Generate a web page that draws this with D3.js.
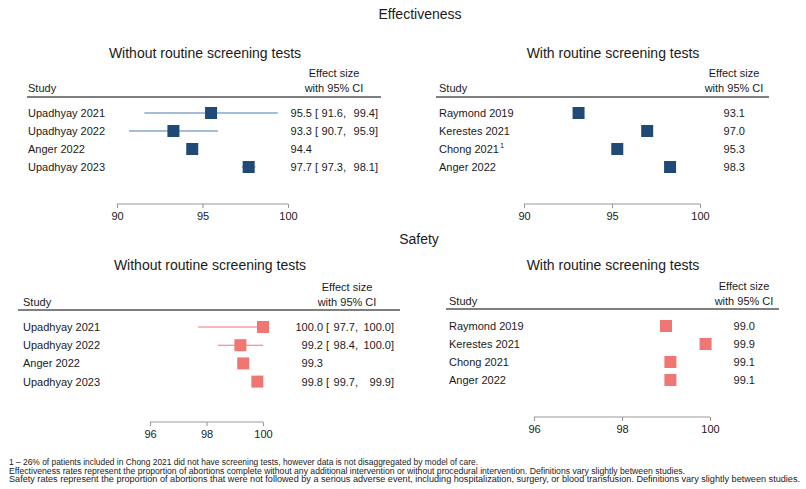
<!DOCTYPE html>
<html>
<head>
<meta charset="utf-8">
<script src="https://cdn.jsdelivr.net/npm/d3@7"></script>
<style>
  html, body { margin: 0; padding: 0; background: #fff; }
  svg text { font-family: "Liberation Sans", Arial, Helvetica, sans-serif; fill: #1a1a1a; }
</style>
</head>
<body>
<svg id="chart" width="806" height="489"></svg>
<script>
// ---------------- DATA ----------------
const sectionTitles = ["Effectiveness", "Safety"];
const panelTitles = ["Without routine screening tests", "With routine screening tests"];

const effWithoutStudies = ["Upadhyay 2021", "Upadhyay 2022", "Anger 2022", "Upadhyay 2023"];
const effWithoutEst = [95.5, 93.3, 94.4, 97.7];
const effWithoutLo  = [91.6, 90.7, null, 97.3];
const effWithoutHi  = [99.4, 95.9, null, 98.1];

const effWithStudies = ["Raymond 2019", "Kerestes 2021", "Chong 2021", "Anger 2022"];
const effWithSup     = ["", "", "1", ""];
const effWithEst     = [93.1, 97.0, 95.3, 98.3];

const safWithoutStudies = ["Upadhyay 2021", "Upadhyay 2022", "Anger 2022", "Upadhyay 2023"];
const safWithoutEst = [100.0, 99.2, 99.3, 99.8];
const safWithoutLo  = [97.7, 98.4, null, 99.7];
const safWithoutHi  = [100.0, 100.0, null, 99.9];

const safWithStudies = ["Raymond 2019", "Kerestes 2021", "Chong 2021", "Anger 2022"];
const safWithEst     = [99.0, 99.9, 99.1, 99.1];

const effTicks = [90, 95, 100];
const safTicks = [96, 98, 100];

const footnotes = [
  "1 \u2013 26% of patients included in Chong 2021 did not have screening tests, however data is not disaggregated by model of care.",
  "Effectiveness rates represent the proportion of abortions complete without any additional intervention or without procedural intervention. Definitions vary slightly between studies.",
  "Safety rates represent the proportion of abortions that were not followed by a serious adverse event, including hospitalization, surgery, or blood transfusion. Definitions vary slightly between studies."
];

// ---------------- STYLE / LAYOUT ----------------
const navy = "#1f4a75", navyLine = "#4a7db3";
const salmon = "#f07672", salmonLine = "#f07672";
const fmt = d3.format(".1f");

const svg = d3.select("#chart");

function rowsOf(studies, est, lo, hi, sup) {
  return studies.map((s, i) => ({
    study: s, est: est[i],
    lo: lo ? lo[i] : null, hi: hi ? hi[i] : null,
    sup: sup ? sup[i] : ""
  }));
}

const panels = [
  { rows: rowsOf(effWithoutStudies, effWithoutEst, effWithoutLo, effWithoutHi),
    title: panelTitles[0], titleX: 205, titleY: 58,
    hdrX0: 27, hdrX1: 381, hdrY: 97, studyX: 28, esX: 334, esY1: 77, esY2: 92,
    rowY0: 113, rowStep: 18, domain: [90, 100], range: [117, 288], axisY: 204, ticks: effTicks,
    fill: navy, line: navyLine, ci: true, estX: 312, bx: 315, loX: 346, hiX: 378 },
  { rows: rowsOf(effWithStudies, effWithEst, null, null, effWithSup),
    title: panelTitles[1], titleX: 613, titleY: 58,
    hdrX0: 436, hdrX1: 769, hdrY: 97, studyX: 439, esX: 734, esY1: 77, esY2: 92,
    rowY0: 113, rowStep: 18, domain: [90, 100], range: [524, 700], axisY: 204, ticks: effTicks,
    fill: navy, line: navyLine, ci: false, estX: 745 },
  { rows: rowsOf(safWithoutStudies, safWithoutEst, safWithoutLo, safWithoutHi),
    title: panelTitles[0], titleX: 210, titleY: 270,
    hdrX0: 18, hdrX1: 400, hdrY: 310, studyX: 23, esX: 347, esY1: 291, esY2: 306,
    rowY0: 327, rowStep: 18.2, domain: [96, 100], range: [150, 263], axisY: 422, ticks: safTicks,
    fill: salmon, line: salmonLine, ci: true, estX: 323, bx: 326, loX: 358, hiX: 394 },
  { rows: rowsOf(safWithStudies, safWithEst, null, null),
    title: panelTitles[1], titleX: 613, titleY: 270,
    hdrX0: 446, hdrX1: 779, hdrY: 309, studyX: 449, esX: 744, esY1: 290, esY2: 305,
    rowY0: 326, rowStep: 18, domain: [96, 100], range: [534, 710], axisY: 417, ticks: safTicks,
    fill: salmon, line: salmonLine, ci: false, estX: 755 }
];

// Section titles
svg.append("text").attr("x", 420).attr("y", 19).attr("text-anchor", "middle")
  .attr("font-size", 14).text(sectionTitles[0]);
svg.append("text").attr("x", 419).attr("y", 244).attr("text-anchor", "middle")
  .attr("font-size", 14).text(sectionTitles[1]);

panels.forEach(p => {
  const g = svg.append("g");
  const x = d3.scaleLinear().domain(p.domain).range(p.range);

  g.append("text").attr("x", p.titleX).attr("y", p.titleY).attr("text-anchor", "middle")
    .attr("font-size", 14).text(p.title);

  g.append("text").attr("x", p.studyX).attr("y", p.esY2).attr("font-size", 11).text("Study");
  g.append("text").attr("x", p.esX).attr("y", p.esY1).attr("text-anchor", "middle")
    .attr("font-size", 11).text("Effect size");
  g.append("text").attr("x", p.esX).attr("y", p.esY2).attr("text-anchor", "middle")
    .attr("font-size", 11).text("with 95% CI");

  g.append("line").attr("x1", p.hdrX0).attr("x2", p.hdrX1)
    .attr("y1", p.hdrY).attr("y2", p.hdrY)
    .attr("stroke", "#555").attr("stroke-width", 1.6);

  const rowY = i => p.rowY0 + i * p.rowStep;

  p.rows.forEach((r, i) => {
    const y = rowY(i);
    const t = g.append("text").attr("x", p.studyX).attr("y", y + 4).attr("font-size", 11).text(r.study);
    if (r.sup) t.append("tspan").attr("dy", -5).attr("dx", 1).attr("font-size", 7.5).text(r.sup);

    if (r.lo != null && r.hi != null) {
      g.append("line").attr("x1", x(r.lo)).attr("x2", x(r.hi))
        .attr("y1", y).attr("y2", y).attr("stroke", p.line).attr("stroke-width", 1.1);
    }
    g.append("rect").attr("x", x(r.est) - 6).attr("y", y - 6)
      .attr("width", 12).attr("height", 12).attr("fill", p.fill);

    g.append("text").attr("x", p.estX).attr("y", y + 4).attr("text-anchor", "end")
      .attr("font-size", 11).text(fmt(r.est));
    if (p.ci && r.lo != null) {
      g.append("text").attr("x", p.bx).attr("y", y + 4).attr("font-size", 11).text("[");
      g.append("text").attr("x", p.loX).attr("y", y + 4).attr("text-anchor", "end")
        .attr("font-size", 11).text(fmt(r.lo) + ",");
      g.append("text").attr("x", p.hiX).attr("y", y + 4).attr("text-anchor", "end")
        .attr("font-size", 11).text(fmt(r.hi) + "]");
    }
  });

  const axis = d3.axisBottom(x).tickValues(p.ticks).tickSizeInner(4).tickSizeOuter(4)
    .tickPadding(4).tickFormat(d3.format("d"));
  const ag = g.append("g").attr("transform", `translate(0,${p.axisY})`).call(axis);
  ag.select(".domain").attr("stroke", "#999").attr("stroke-width", 1.1)
    .attr("d", `M${p.range[0]},0H${p.range[1]}`);
  ag.selectAll(".tick line").attr("stroke", "#999").attr("stroke-width", 1.1);
  ag.selectAll(".tick text").attr("font-size", 11).attr("fill", "#1a1a1a")
    .attr("font-family", "'Liberation Sans', Arial, Helvetica, sans-serif");
});

// Footnotes
const fnY = [465, 473.5, 482];
const fnLen = [469, 676, 791];
footnotes.forEach((f, i) => {
  svg.append("text").attr("x", 9).attr("y", fnY[i]).attr("font-size", 9.2)
    .attr("textLength", fnLen[i]).attr("lengthAdjust", "spacingAndGlyphs")
    .text(f);
});
</script>
</body>
</html>
